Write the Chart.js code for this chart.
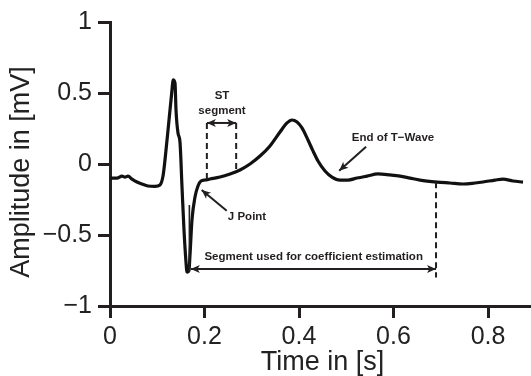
<!DOCTYPE html>
<html><head><meta charset="utf-8">
<script src="https://cdn.jsdelivr.net/npm/chart.js@4"></script>
<style>html,body{margin:0;padding:0;background:#fff}#wrap{width:531px;height:376px}</style>
</head><body><div id="wrap"><canvas id="c" width="531" height="376"></canvas></div>
<script>
// ---- data ----
const timeS = [0,0.0148,0.0254,0.0317,0.0381,0.0466,0.0571,0.0677,0.0804,0.0952,0.1058,0.1122,0.1164,0.1249,0.1312,0.1333,0.1376,0.1397,0.1439,0.1481,0.1524,0.1566,0.1608,0.1630,0.1672,0.1693,0.1735,0.1799,0.1862,0.1926,0.2011,0.2116,0.2328,0.2540,0.2751,0.2963,0.3175,0.3386,0.3598,0.3746,0.3852,0.3958,0.4063,0.4190,0.4296,0.4402,0.4550,0.4698,0.4868,0.5037,0.5228,0.5439,0.5672,0.5926,0.6138,0.6349,0.6561,0.6920,0.7196,0.7471,0.7725,0.7894,0.8148,0.8317,0.8529,0.8741];
const amplitudeMV = [-0.099,-0.099,-0.085,-0.092,-0.085,-0.106,-0.127,-0.141,-0.155,-0.158,-0.148,-0.085,0.028,0.310,0.521,0.592,0.570,0.380,0.218,0.155,-0.162,-0.465,-0.690,-0.761,-0.746,-0.641,-0.394,-0.232,-0.155,-0.120,-0.113,-0.106,-0.092,-0.070,-0.042,0.000,0.056,0.127,0.225,0.289,0.310,0.296,0.254,0.169,0.092,0.021,-0.049,-0.092,-0.113,-0.113,-0.099,-0.085,-0.070,-0.077,-0.085,-0.099,-0.113,-0.127,-0.134,-0.141,-0.134,-0.127,-0.113,-0.106,-0.120,-0.127];
const xTicks = [0, 0.2, 0.4, 0.6, 0.8];
const xTickLabels = ['0', '0.2', '0.4', '0.6', '0.8'];
const yTicks = [-1, -0.5, 0, 0.5, 1];
const yTickLabels = ['\u22121', '\u22120.5', '0', '0.5', '1'];
const xTitle = 'Time in [s]';
const yTitle = 'Amplitude in [mV]';
// annotation geometry in data units [t, v]
const dashedLines = [[0.205, 0.289, 0.205, -0.110], [0.267, 0.289, 0.267, -0.062], [0.690, -0.128, 0.690, -0.800]];
const doubleArrows = [[0.205, 0.289, 0.267, 0.289], [0.171, -0.739, 0.690, -0.739]];
const singleArrows = [[0.247, -0.329, 0.194, -0.183], [0.542, 0.122, 0.485, -0.047]];
const markerLine = [0.168, -0.289, 0.168, -0.761];
const annotationLabels = ['ST', 'segment', 'J Point', 'End of T\u2212Wave', 'Segment used for coefficient estimation'];
const annotationX = [0.237, 0.237, 0.290, 0.599, 0.431];
const annotationY = [0.456, 0.352, -0.394, 0.162, -0.676];

const INK = '#231f20';

const annotPlugin = {
  id: 'annot',
  afterDatasetsDraw(chart) {
    const ctx = chart.ctx, xs = chart.scales.x, ys = chart.scales.y;
    const X = v => xs.getPixelForValue(v), Y = v => ys.getPixelForValue(v);
    ctx.save();
    ctx.strokeStyle = INK; ctx.fillStyle = INK;
    // dashed
    ctx.lineWidth = 2; ctx.setLineDash([6, 4]);
    dashedLines.forEach(l => { ctx.beginPath(); ctx.moveTo(X(l[0]), Y(l[1])); ctx.lineTo(X(l[2]), Y(l[3])); ctx.stroke(); });
    ctx.setLineDash([]);
    // marker
    ctx.lineWidth = 1.6;
    ctx.beginPath(); ctx.moveTo(X(markerLine[0]), Y(markerLine[1])); ctx.lineTo(X(markerLine[2]), Y(markerLine[3])); ctx.stroke();
    function head(x1, y1, x2, y2) {
      const a = Math.atan2(y2 - y1, x2 - x1), L = 9, W = 4;
      ctx.beginPath();
      ctx.moveTo(x2, y2);
      ctx.lineTo(x2 - L * Math.cos(a) + W * Math.sin(a), y2 - L * Math.sin(a) - W * Math.cos(a));
      ctx.lineTo(x2 - L * Math.cos(a) * 0.75, y2 - L * Math.sin(a) * 0.75);
      ctx.lineTo(x2 - L * Math.cos(a) - W * Math.sin(a), y2 - L * Math.sin(a) + W * Math.cos(a));
      ctx.closePath(); ctx.fill();
    }
    ctx.lineWidth = 2;
    doubleArrows.forEach(l => {
      const x1 = X(l[0]), y1 = Y(l[1]), x2 = X(l[2]), y2 = Y(l[3]);
      ctx.beginPath(); ctx.moveTo(x1, y1); ctx.lineTo(x2, y2); ctx.stroke();
      head(x1, y1, x2, y2); head(x2, y2, x1, y1);
    });
    singleArrows.forEach(l => {
      const x1 = X(l[0]), y1 = Y(l[1]), x2 = X(l[2]), y2 = Y(l[3]);
      ctx.beginPath(); ctx.moveTo(x1, y1); ctx.lineTo(x2, y2); ctx.stroke();
      head(x1, y1, x2, y2);
    });
    ctx.font = 'bold 11.5px "Liberation Sans", Arial, sans-serif';
    ctx.textAlign = 'center'; ctx.textBaseline = 'alphabetic';
    annotationLabels.forEach((t, i) => ctx.fillText(t, X(annotationX[i]), Y(annotationY[i])));
    // axis titles
    ctx.fillStyle = '#222';
    ctx.font = '27px "Liberation Sans", Arial, sans-serif';
    ctx.fillText(xTitle, (chart.chartArea.left + chart.chartArea.right) / 2 + 2, 370);
    ctx.translate(29, 172); ctx.rotate(-Math.PI / 2);
    ctx.fillText(yTitle, 0, 0);
    ctx.restore();
  }
};

new Chart(document.getElementById('c'), {
  type: 'line',
  data: {
    datasets: [{
      data: timeS.map((t, i) => ({ x: t, y: amplitudeMV[i] })),
      borderColor: '#111', borderWidth: 3.2, pointRadius: 0, tension: 0.3,
      cubicInterpolationMode: 'monotone', fill: false
    }]
  },
  options: {
    responsive: false, animation: false, devicePixelRatio: 1,
    layout: { padding: { top: 22, right: 0, left: 0, bottom: 0 } },
    plugins: { legend: { display: false }, tooltip: { enabled: false } },
    scales: {
      x: {
        type: 'linear', min: 0, max: 0.891,
        afterBuildTicks: s => { s.ticks = xTicks.map(v => ({ value: v })); },
        afterFit: s => { s.height = 70; },
        ticks: { callback: v => xTickLabels[xTicks.indexOf(v)], color: '#222', padding: 4, maxRotation: 0,
                 font: { size: 25, family: '"Liberation Sans", Arial, sans-serif' } },
        grid: { drawOnChartArea: false, drawTicks: true, tickLength: 12, lineWidth: 3, tickWidth: 3, color: INK, tickColor: INK },
        border: { display: true, width: 3, color: INK }
      },
      y: {
        type: 'linear', min: -1, max: 1,
        afterBuildTicks: s => { s.ticks = yTicks.map(v => ({ value: v })); },
        afterFit: s => { s.width = 110; },
        ticks: { callback: v => yTickLabels[yTicks.indexOf(v)], color: '#222', padding: 6,
                 font: { size: 25, family: '"Liberation Sans", Arial, sans-serif' } },
        grid: { drawOnChartArea: false, drawTicks: true, tickLength: 12, lineWidth: 3, tickWidth: 3, color: INK, tickColor: INK },
        border: { display: true, width: 3, color: INK }
      }
    }
  },
  plugins: [annotPlugin]
});
</script></body></html>
